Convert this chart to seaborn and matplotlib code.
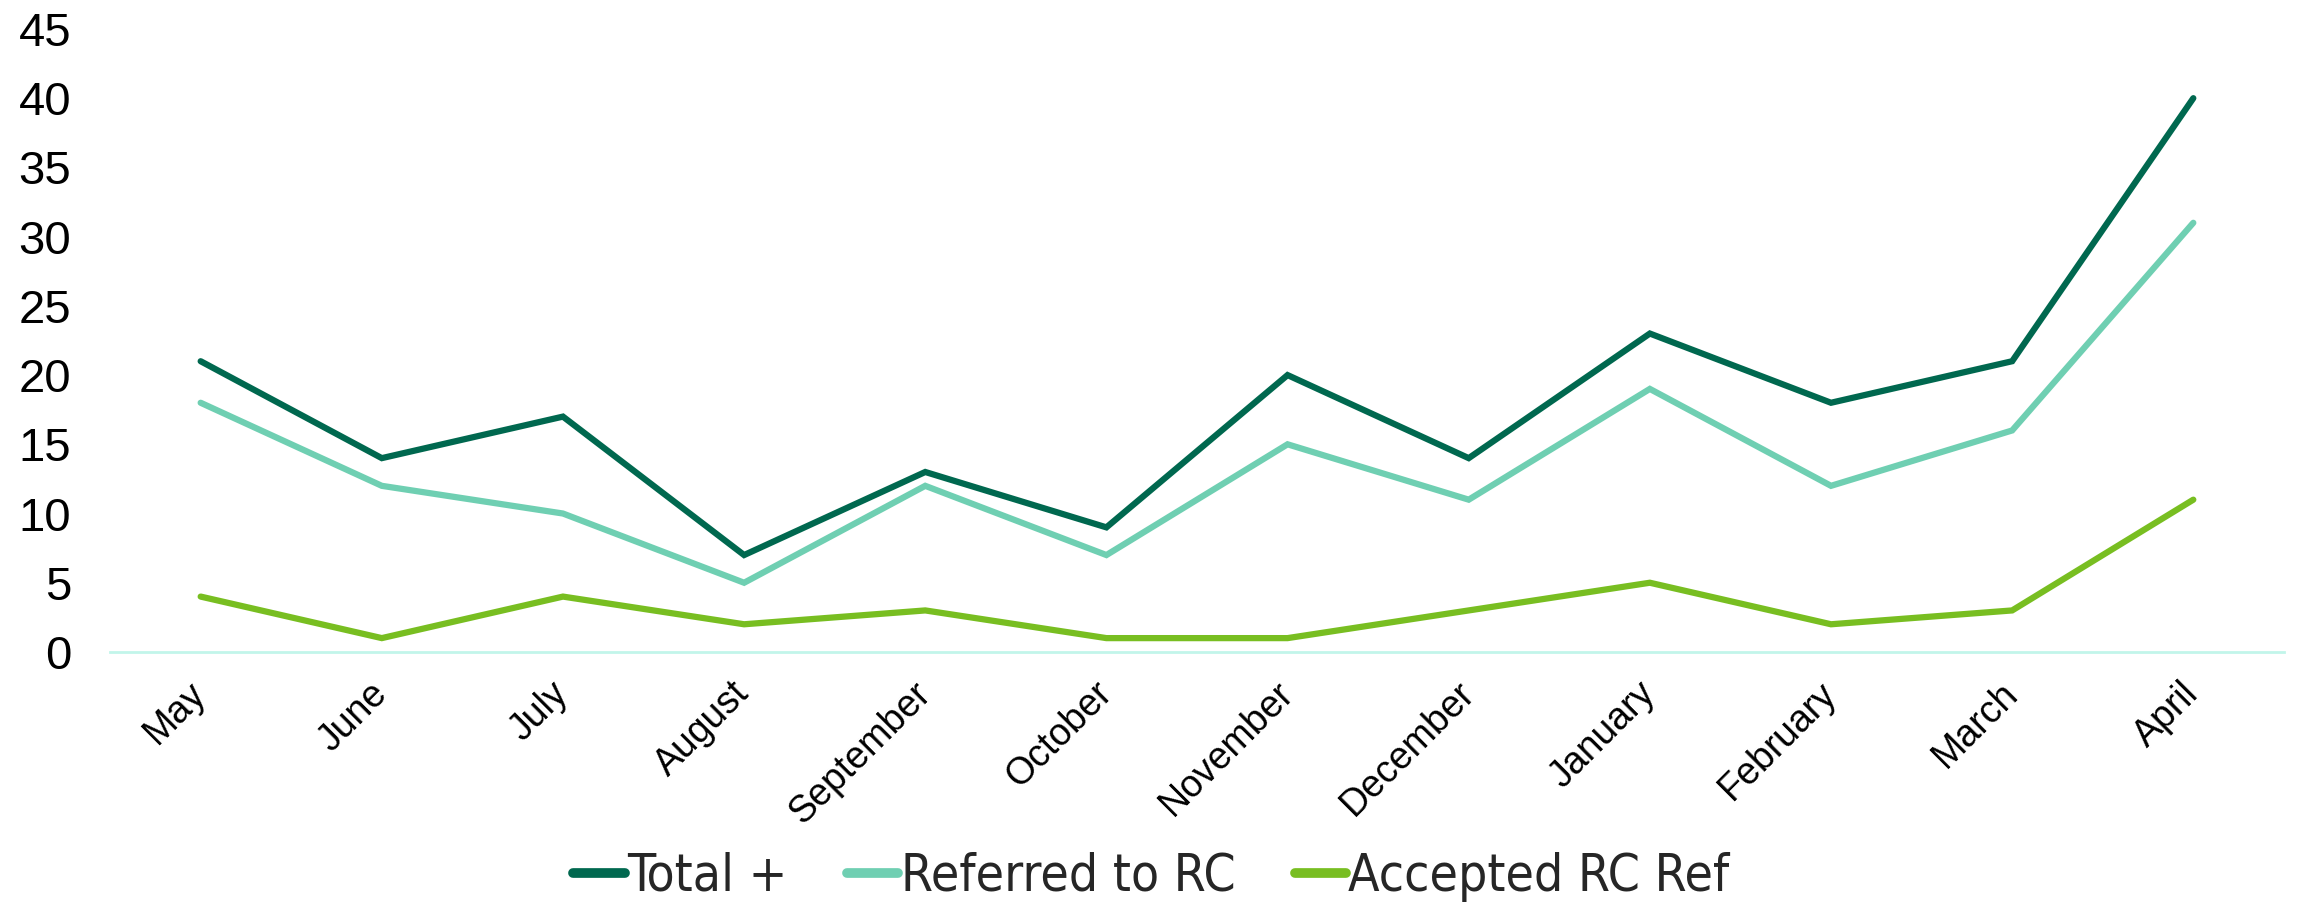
import matplotlib
matplotlib.use("Agg")
import matplotlib.pyplot as plt
import seaborn as sns
import pandas as pd
from matplotlib import font_manager as fm

months = ["May", "June", "July", "August", "September", "October",
          "November", "December", "January", "February", "March", "April"]
total_plus = [21, 14, 17, 7, 13, 9, 20, 14, 23, 18, 21, 40]
referred_rc = [18, 12, 10, 5, 12, 7, 15, 11, 19, 12, 16, 31]
accepted_rc = [4, 1, 4, 2, 3, 1, 1, 3, 5, 2, 3, 11]
series_names = ["Total +", "Referred to RC", "Accepted RC Ref"]
colors = ["#00684F", "#6FCFB2", "#78BE21"]

df = pd.DataFrame({"Month": months, series_names[0]: total_plus,
                   series_names[1]: referred_rc, series_names[2]: accepted_rc})
long = df.melt(id_vars="Month", var_name="Series", value_name="Value")

sns.set_theme(style="white")
plt.rcParams["font.family"] = ["Liberation Sans", "DejaVu Sans"]

names = {f.name for f in fm.fontManager.ttflist}

fig = plt.figure(figsize=(23.03, 9.05), dpi=100)
ax = fig.add_axes([0.0478, 0.2796, 0.9439, 0.6884])

sns.lineplot(data=long, x="Month", y="Value", hue="Series", hue_order=series_names,
             palette=colors, linewidth=4.5, sort=False, ax=ax, legend=True)

ax.set_xlim(-0.5, len(months) - 0.5)
ax.set_ylim(0, 45)
ax.set_yticks(range(0, 46, 5))
ax.set_xlabel("")
ax.set_ylabel("")
for s in ["top", "right", "left"]:
    ax.spines[s].set_visible(False)
ax.spines["bottom"].set_color("#C2F5EA")
ax.spines["bottom"].set_linewidth(2)
ax.tick_params(axis="both", length=0)
ax.tick_params(axis="y", labelsize=34, pad=28, colors="black")
ax.tick_params(axis="x", labelsize=27, pad=26, colors="black")
for lab in ax.get_xticklabels():
    lab.set_rotation(45)
    lab.set_ha("right")
    lab.set_va("center")
    lab.set_rotation_mode("anchor")
for lab in ax.get_yticklabels():
    lab.set_ha("right")

for line in ax.get_lines():
    line.set_solid_capstyle("round")
    line.set_solid_joinstyle("miter")

if "Liberation Sans Narrow" in names:
    leg_font = fm.FontProperties(family="Liberation Sans Narrow", size=42)
else:
    leg_font = fm.FontProperties(family="DejaVu Sans", stretch="condensed", size=37)

handles, labels = ax.get_legend_handles_labels()
ax.legend(handles, labels, loc="center", bbox_to_anchor=(0.5, 0.031), bbox_transform=fig.transFigure,
          ncol=3, frameon=False, prop=leg_font, handlelength=1.0, handletextpad=0.05,
          columnspacing=1.15)
for h in ax.get_legend().legend_handles:
    h.set_linewidth(7)

fig.savefig("out.png", dpi=100)
